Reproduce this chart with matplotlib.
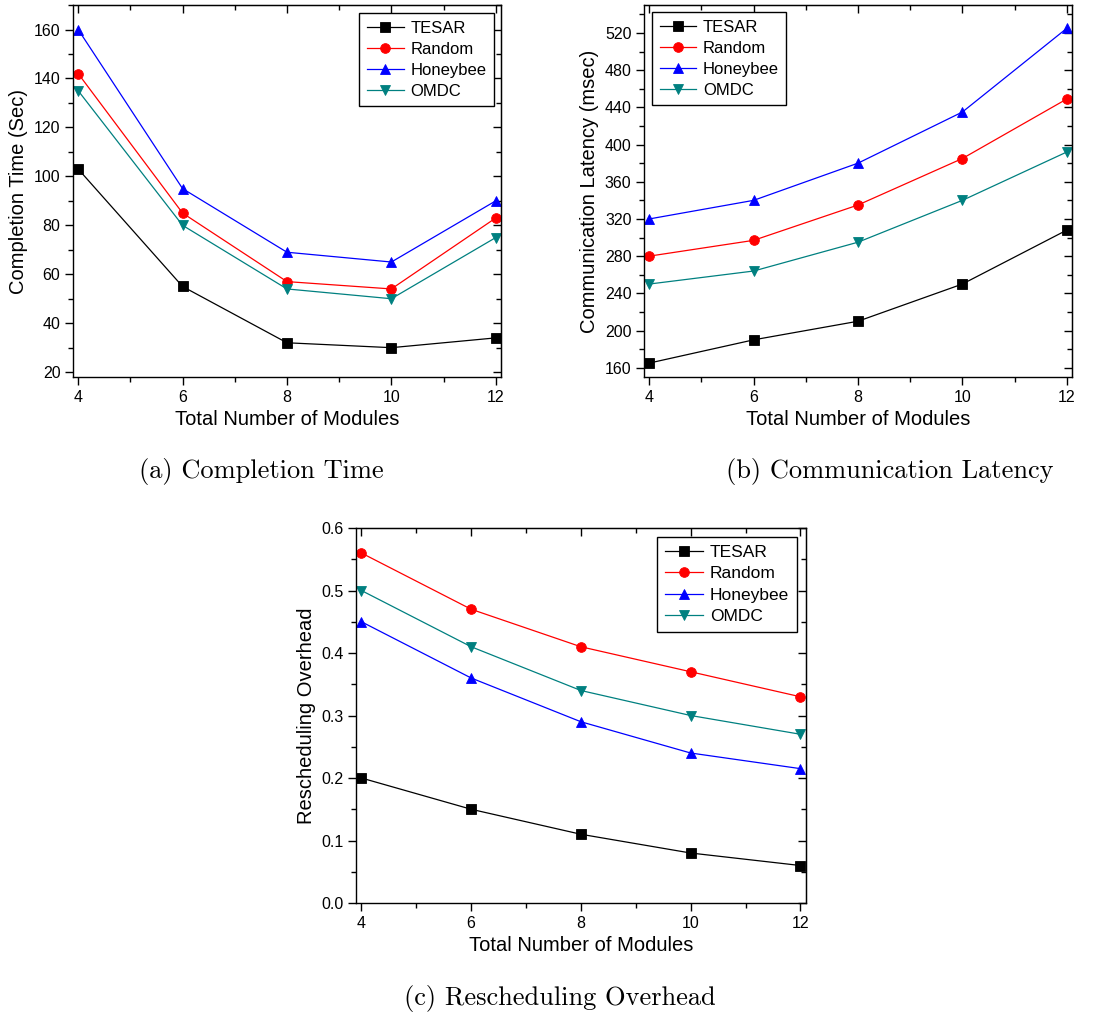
import numpy as np
import matplotlib
matplotlib.use('Agg')
import matplotlib.pyplot as plt
from matplotlib.ticker import MultipleLocator

plt.rcParams['font.family'] = ['Liberation Sans', 'DejaVu Sans']

modules = [4, 6, 8, 10, 12]
names = ['TESAR', 'Random', 'Honeybee', 'OMDC']

# (a) completion time (sec)
time_tesar = [103, 55, 32, 30, 34]
time_random = [142, 85, 57, 54, 83]
time_honeybee = [160, 95, 69, 65, 90]
time_omdc = [135, 80, 54, 50, 75]

# (b) communication latency (msec)
lat_tesar = [165, 190, 210, 250, 308]
lat_random = [280, 297, 335, 385, 449]
lat_honeybee = [320, 340, 380, 435, 525]
lat_omdc = [250, 264, 295, 340, 392]

# (c) rescheduling overhead
res_tesar = [0.20, 0.15, 0.11, 0.08, 0.06]
res_random = [0.56, 0.47, 0.41, 0.37, 0.33]
res_honeybee = [0.45, 0.36, 0.29, 0.24, 0.215]
res_omdc = [0.50, 0.41, 0.34, 0.30, 0.27]

colors = ['black', 'red', 'blue', '#008080']
markers = ['s', 'o', '^', 'v']
msizes = [6.5, 7, 7.5, 7.5]


def draw(ax, series, ylabel, ylim, ymajor, legloc, bbox, legsize=12):
    for vals, name, c, m, ms in zip(series, names, colors, markers, msizes):
        ax.plot(modules, vals, color=c, marker=m, markersize=ms, lw=0.9,
                markeredgewidth=0.6, label=name)
    ax.set_xlim(3.9, 12.1)
    ax.set_ylim(*ylim)
    ax.xaxis.set_major_locator(MultipleLocator(2))
    ax.xaxis.set_minor_locator(MultipleLocator(1))
    ax.yaxis.set_major_locator(MultipleLocator(ymajor))
    ax.yaxis.set_minor_locator(MultipleLocator(ymajor / 2))
    ax.tick_params(which='both', direction='out', top=False, right=False,
                   labelsize=11.5, width=1)
    ax.tick_params(which='major', length=6, pad=3)
    ax.tick_params(which='minor', length=3.5)
    for side in ['top', 'right', 'left', 'bottom']:
        ax.spines[side].set_linewidth(1)
    # inward ticks on top and right
    sec = ax.secondary_xaxis('top')
    sec.xaxis.set_major_locator(MultipleLocator(2))
    sec.xaxis.set_minor_locator(MultipleLocator(1))
    sec.tick_params(which='both', direction='in', labeltop=False, width=1)
    sec.tick_params(which='major', length=6)
    sec.tick_params(which='minor', length=3.5)
    secy = ax.secondary_yaxis('right')
    secy.yaxis.set_major_locator(MultipleLocator(ymajor))
    secy.yaxis.set_minor_locator(MultipleLocator(ymajor / 2))
    secy.tick_params(which='both', direction='in', labelright=False, width=1)
    secy.tick_params(which='major', length=6)
    secy.tick_params(which='minor', length=3.5)
    ax.set_xlabel('Total Number of Modules', fontsize=14.5, labelpad=4)
    ax.set_ylabel(ylabel, fontsize=14.5, labelpad=4)
    leg = ax.legend(loc=legloc, bbox_to_anchor=bbox, fontsize=legsize,
                    fancybox=False, framealpha=1, edgecolor='black',
                    handlelength=2.2, borderpad=0.45, labelspacing=0.36,
                    handletextpad=0.4, borderaxespad=0)
    leg.get_frame().set_linewidth(1)


fig = plt.figure(figsize=(11.19, 10.16), dpi=100)

ax1 = fig.add_axes([0.0652, 0.6289, 0.3825, 0.3661])
draw(ax1, [time_tesar, time_random, time_honeybee, time_omdc],
     'Completion Time (Sec)', (18, 170), 20, 'upper right', (0.983, 0.978))

ax2 = fig.add_axes([0.5755, 0.6289, 0.3825, 0.3661])
draw(ax2, [lat_tesar, lat_random, lat_honeybee, lat_omdc],
     'Communication Latency (msec)', (150, 550), 40, 'upper left', (0.019, 0.981))

ax3 = fig.add_axes([0.3181, 0.1112, 0.4021, 0.3691])
draw(ax3, [res_tesar, res_random, res_honeybee, res_omdc],
     'Rescheduling Overhead', (0, 0.6), 0.1, 'upper right', (0.98, 0.976),
     legsize=12.5)
ax3.yaxis.set_major_formatter(matplotlib.ticker.FormatStrFormatter('%.1f'))

cap = dict(fontsize=19, family='cmr10', ha='center', va='center')
fig.text(261 / 1119, 1 - 471 / 1016, '(a) Completion Time', **cap)
fig.text(890 / 1119, 1 - 471 / 1016, '(b) Communication Latency', **cap)
fig.text(560 / 1119, 1 - 999 / 1016, '(c) Rescheduling Overhead', **cap)

fig.savefig('out.png', dpi=100)
